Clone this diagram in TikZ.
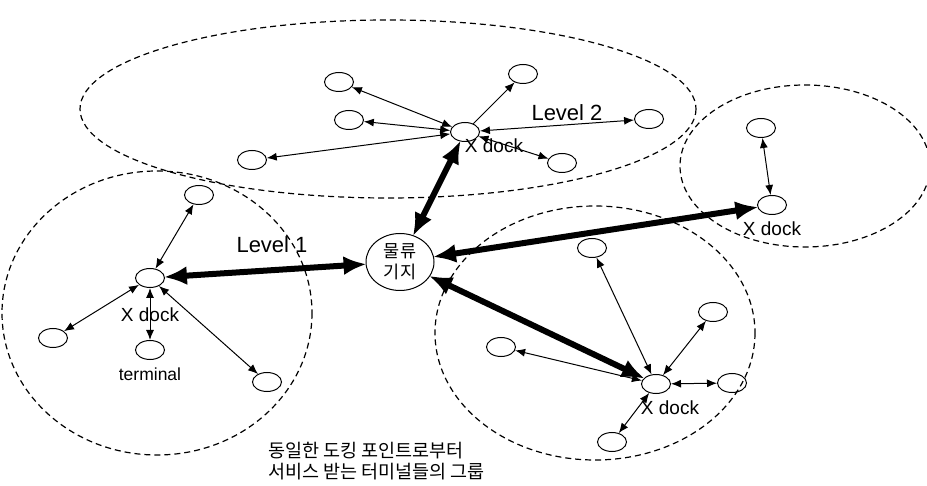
\documentclass[tikz,border=0pt]{standalone}
\usepackage{fontspec}
\setmainfont{Liberation Sans}
\newfontfamily\kr{Noto Sans CJK KR}
\usetikzlibrary{arrows.meta,shapes.geometric}
\tikzset{
  sn/.style={draw, ellipse, line width=1pt, minimum width=29pt, minimum height=19pt, inner sep=0pt},
  cn/.style={draw, ellipse, line width=1pt, minimum width=68pt, minimum height=57pt, inner sep=0pt, align=center, font=\kr\fontsize{17.5}{21}\selectfont},
  thin/.style={line width=1pt, {Latex[length=10pt,width=8pt]}-{Latex[length=10pt,width=8pt]}},
  thinone/.style={line width=1pt, -{Latex[length=10pt,width=8pt]}},
  fat/.style={line width=6pt, {Latex[length=23pt,width=19pt]}-{Latex[length=23pt,width=19pt]}, shorten <=-1pt, shorten >=-1pt},
  region/.style={line width=1.2pt, dash pattern=on 6pt off 4pt},
  lvl/.style={font=\fontsize{22}{26}\selectfont, inner sep=0pt},
  xd/.style={font=\fontsize{19}{22}\selectfont, inner sep=0pt},
  note/.style={font=\kr\fontsize{18.5}{20.5}\selectfont, inner sep=0pt, align=left, anchor=west}
}
\begin{document}
\begin{tikzpicture}[x=1pt,y=-1pt]
\fill[white] (0,0) rectangle (927,486);
\useasboundingbox (0,0) rectangle (927,486);
% dashed regions
\draw[region] (388,109) ellipse [x radius=308, y radius=89];
\draw[region] (157,313) ellipse [x radius=155, y radius=142];
\draw[region] (595,333) ellipse [x radius=160, y radius=127];
\draw[region] (805,166) ellipse [x radius=125, y radius=81];
% centre
\node[cn] (C) at (400,262) {물류\\기지};
% top cluster
\node[sn] (T0) at (465,132) {};
\node[sn] (T1) at (339,82) {};
\node[sn] (T2) at (523,74) {};
\node[sn] (T3) at (349,120) {};
\node[sn] (T4) at (649,119) {};
\node[sn] (T5) at (252,160) {};
\node[sn] (T6) at (562,163) {};
% left cluster
\node[sn] (L0) at (150,278) {};
\node[sn] (L1) at (199,195) {};
\node[sn] (L2) at (53,338) {};
\node[sn] (L3) at (150,350) {};
\node[sn] (L4) at (267,382) {};
% bottom right cluster
\node[sn] (B0) at (656,384) {};
\node[sn] (B1) at (592,248) {};
\node[sn] (B2) at (713,312) {};
\node[sn] (B3) at (501,347) {};
\node[sn] (B4) at (732,383) {};
\node[sn] (B5) at (612,442) {};
% right cluster
\node[sn] (R0) at (772,205) {};
\node[sn] (R1) at (761,128) {};
% thin arrows
\draw[thin] (T0) -- (T1);
\draw[thinone] (T0) -- (T2);
\draw[thin] (T0) -- (T3);
\draw[thin] (T0) -- (T4);
\draw[thin] (T0) -- (T5);
\draw[thin] (T0) -- (T6);
\draw[thin] (L0) -- (L1);
\draw[thin] (L0) -- (L2);
\draw[thin] (L0) -- (L3);
\draw[thin] (L0) -- (L4);
\draw[thin] (B0) -- (B1);
\draw[thin] (B0) -- (B2);
\draw[thin] (B0) -- (B3);
\draw[thin] (B0) -- (B4);
\draw[thin] (B0) -- (B5);
\draw[thin] (R0) -- (R1);
% thick arrows
\draw[fat] (L0) -- (C);
\draw[fat] (T0) -- (C);
\draw[fat] (C) -- (R0);
\draw[fat] (C) -- (B0);
% labels
\node[lvl] (lv2) at (567,113) {Level 2};
\node[lvl] (lv1) at (272,245) {Level 1};
\node[xd] (xt) at (494,146) {X dock};
\node[xd] (xl) at (150,315) {X dock};
\node[xd] (xb) at (670,408) {X dock};
\node[xd] (xr) at (772,229) {X dock};
\node[font=\fontsize{17.5}{20}\selectfont, inner sep=0pt] (term) at (150,374) {terminal};
\node[note] (nt) at (268,461) {동일한 도킹 포인트로부터\\서비스 받는 터미널들의 그룹};
\end{tikzpicture}
\end{document}
